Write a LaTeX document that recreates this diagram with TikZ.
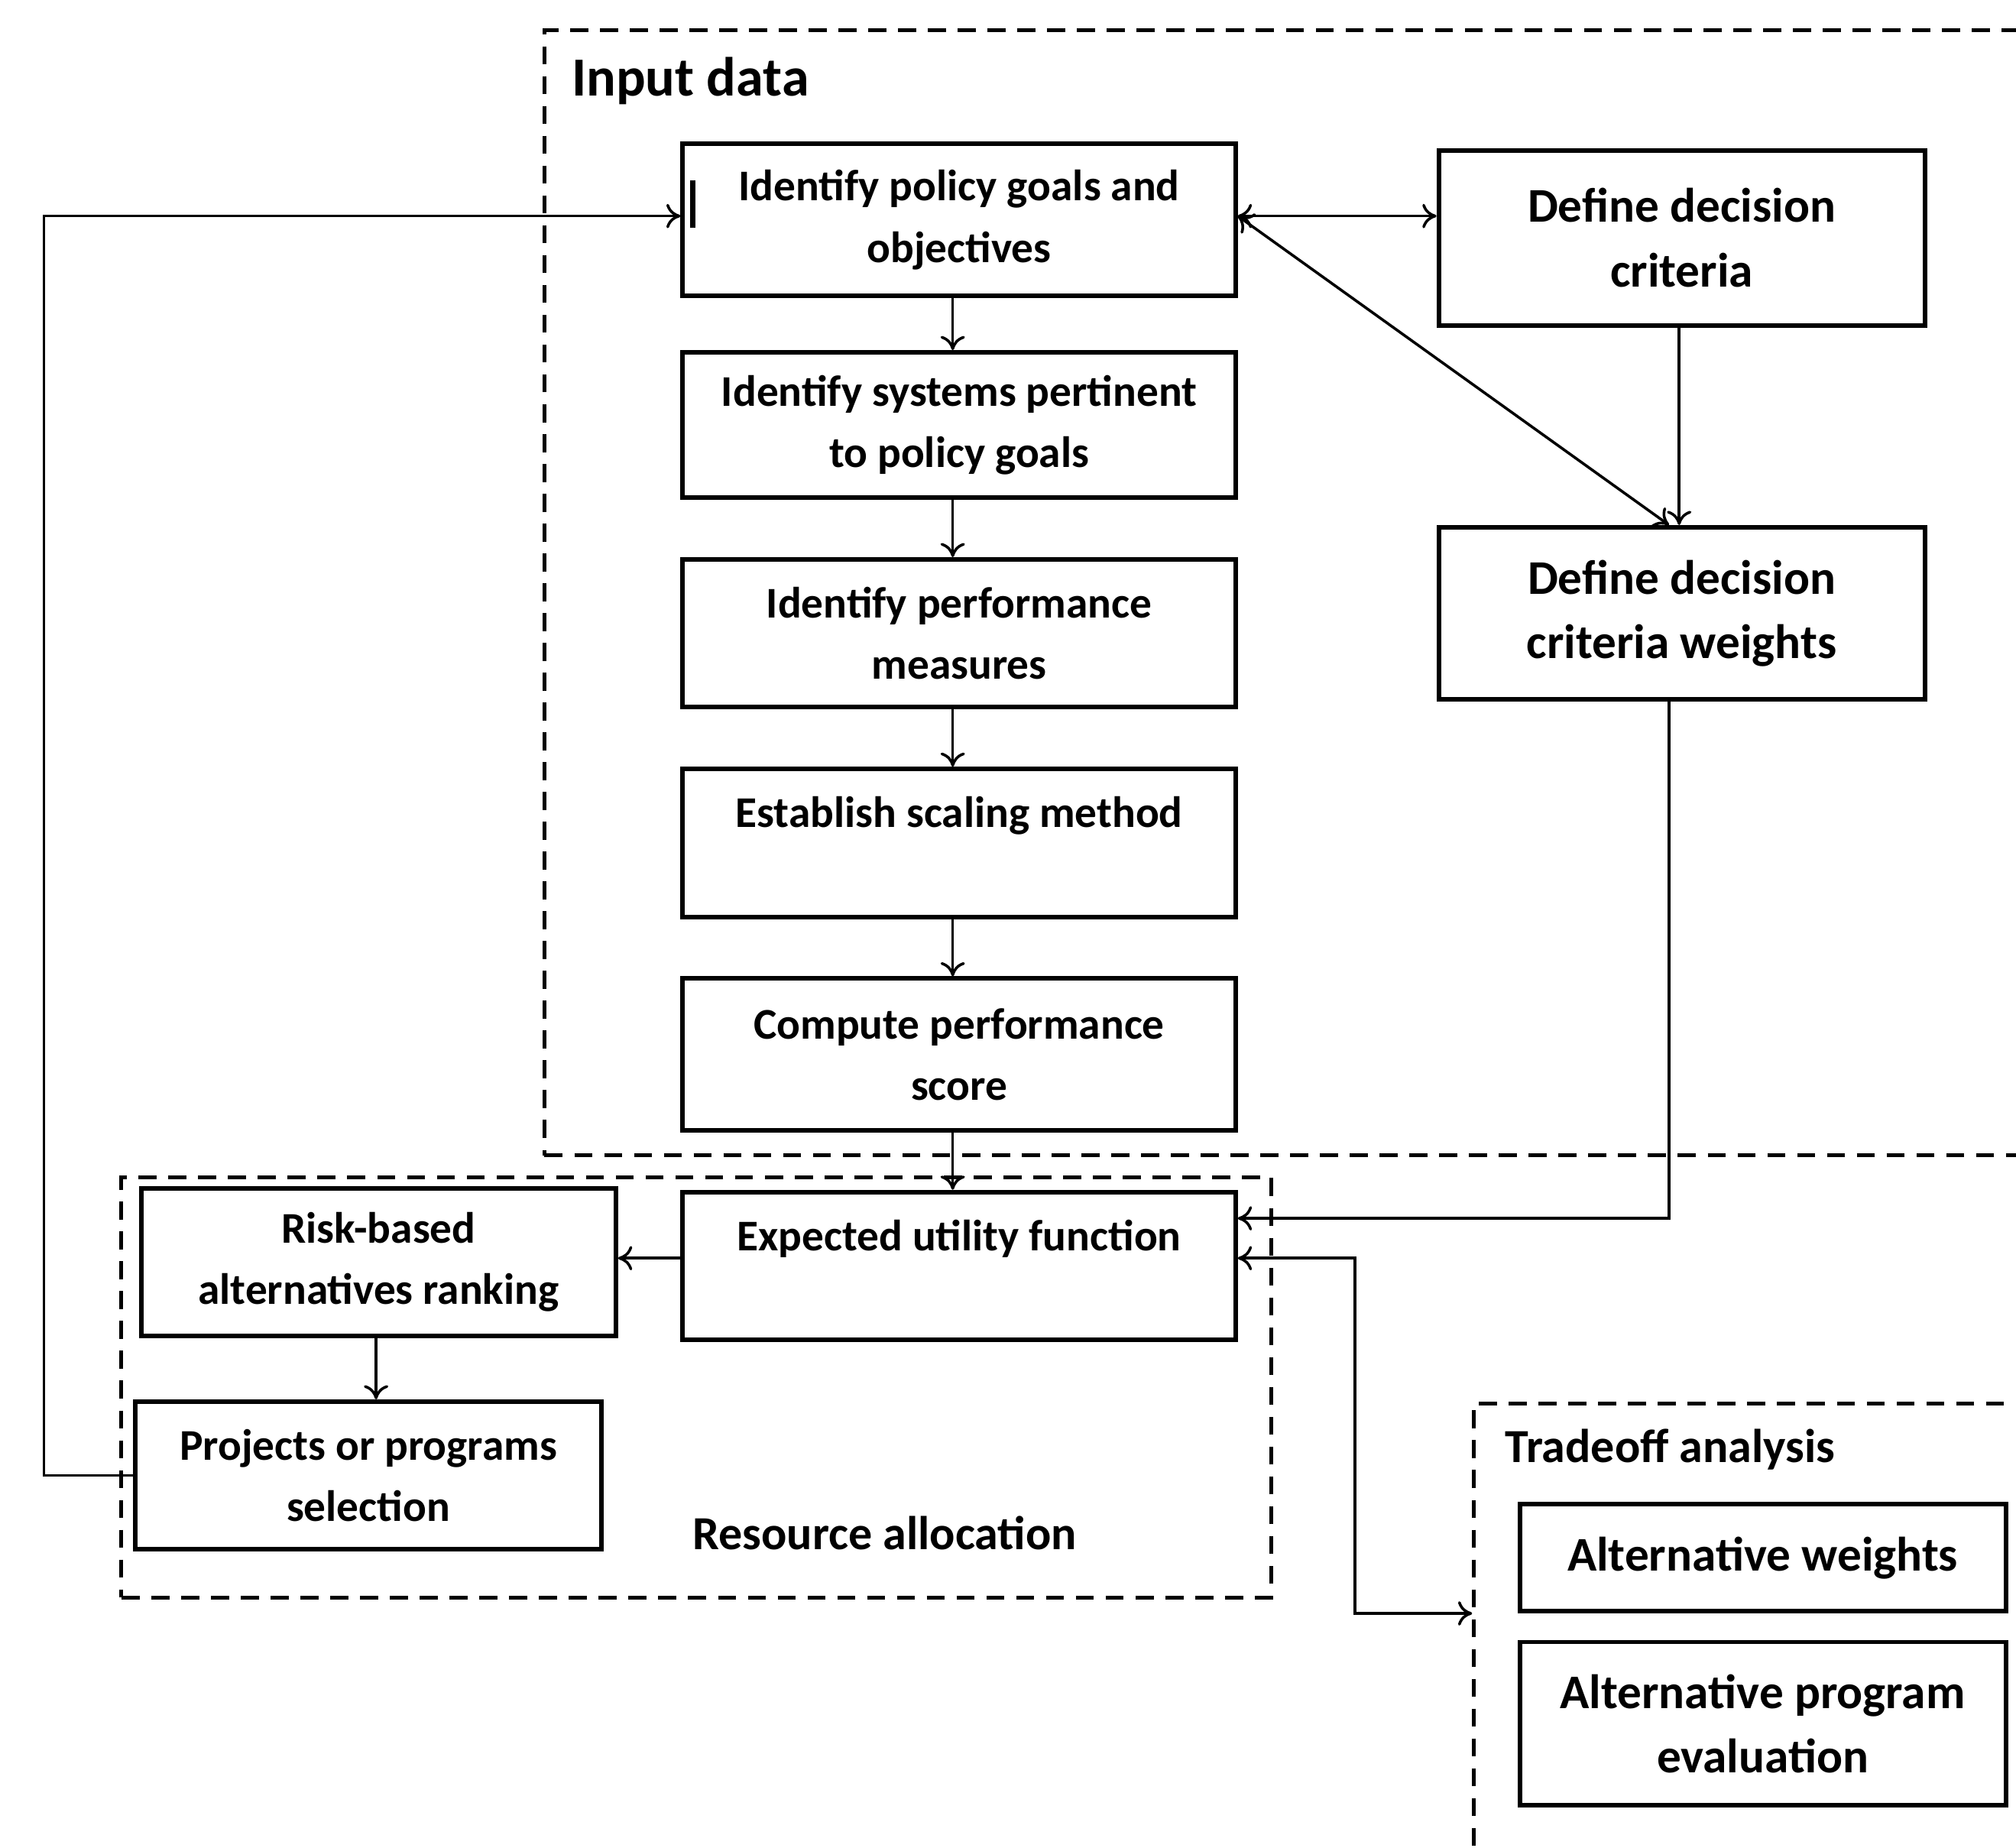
\documentclass[tikz,border=0pt]{standalone}
\usepackage{fontspec}
\setmainfont{Carlito}
\usepackage{tikz}
\usetikzlibrary{arrows.meta,positioning}

\begin{document}
\begin{tikzpicture}[
  >={To[length=1.1mm,width=1.9mm]},
  stepbox/.style={draw,line width=1pt,align=center,inner sep=0pt,minimum width=4.30cm,minimum height=1.15cm,font=\bfseries\fontsize{9.7}{13.6}\selectfont},
  sidebox/.style={stepbox,minimum width=3.78cm,font=\bfseries\fontsize{10.7}{14.3}\selectfont},
  groupbox/.style={draw,dash pattern=on 4pt off 2.6pt,line width=0.85pt,inner sep=0pt,anchor=north west},
  grouplbl/.style={inner sep=0pt,font=\bfseries\fontsize{10.5}{12}\selectfont},
  link/.style={->,line width=0.6pt},
  twolink/.style={<->,line width=0.6pt}
]
\useasboundingbox (0,0) rectangle (15.68,-14.37);
\clip (0,0) rectangle (15.68,-14.37);

\node[groupbox,minimum width=11.8cm,minimum height=8.75cm] (input) at (4.22,-0.22) {};
\node[groupbox,minimum width=8.94cm,minimum height=3.27cm] (resource) at (0.93,-9.14) {};
\node[groupbox,minimum width=4.8cm,minimum height=3.8cm] (trade) at (11.45,-10.90) {};

\node[anchor=west,inner sep=0pt,font=\bfseries\fontsize{12.2}{14}\selectfont] (inputlbl) at (4.44,-0.63) {Input data};
\node[grouplbl] (resourcelbl) at (6.88,-11.92) {Resource allocation};
\node[grouplbl,anchor=west] (tradelbl) at (11.70,-11.27) {Tradeoff analysis};

\node[stepbox,minimum height=1.18cm] (goals) at (7.46,-1.71) {Identify policy goals and\\objectives};
\node[stepbox,minimum height=1.13cm] (systems) at (7.46,-3.305) {Identify systems pertinent\\to policy goals};
\node[stepbox] (measures) at (7.46,-4.925) {Identify performance\\measures};
\node[stepbox] (scaling) at (7.46,-6.555) {Establish scaling method\\\mbox{}};
\node[stepbox,minimum height=1.18cm] (score) at (7.46,-8.20) {Compute performance\\score};
\node[stepbox] (utility) at (7.46,-9.845) {Expected utility function\\\mbox{}};
\node[stepbox,minimum width=3.69cm] (ranking) at (2.945,-9.815) {Risk-based\\alternatives ranking};
\node[stepbox,minimum width=3.63cm] (selection) at (2.865,-11.475) {Projects or programs\\selection};

\node[sidebox,minimum height=1.36cm] (criteria) at (13.08,-1.85) {Define decision\\criteria};
\node[sidebox,minimum height=1.34cm] (weights) at (13.08,-4.77) {Define decision\\criteria weights};
\node[sidebox,minimum height=0.83cm] (altweights) at (13.71,-12.115) {Alternative weights};
\node[sidebox,minimum height=1.27cm] (alteval) at (13.71,-13.405) {Alternative program\\evaluation};

\draw[line width=1.2pt] (5.39,-1.40) -- (5.39,-1.77);

\draw[link] ([xshift=-0.5mm]goals.south) -- ([xshift=-0.5mm]systems.north);
\draw[link] ([xshift=-0.5mm]systems.south) -- ([xshift=-0.5mm]measures.north);
\draw[link] ([xshift=-0.5mm]measures.south) -- ([xshift=-0.5mm]scaling.north);
\draw[link] ([xshift=-0.5mm]scaling.south) -- ([xshift=-0.5mm]score.north);
\draw[link] ([xshift=-0.5mm]score.south) -- ([xshift=-0.5mm]utility.north);
\draw[link] ([yshift=0.6mm]utility.west) -- ([yshift=0.6mm]utility.west -| ranking.east);
\draw[link] ([xshift=-0.2mm]ranking.south) -- ([xshift=-0.2mm]ranking.south |- selection.north);
\draw[link] (selection.west) -- ++(-0.69,0) |- ([yshift=0.3mm]goals.west);
\draw[twolink] ([yshift=0.3mm]goals.east) -- ([yshift=0.3mm]goals.east -| criteria.west);
\draw[twolink] ([yshift=0.3mm]goals.east) -- ([xshift=-1mm]weights.north);
\draw[link] ([xshift=-0.2mm]criteria.south) -- ([xshift=-0.2mm]weights.north);
\draw[link] ([xshift=-1mm]weights.south) |- ([yshift=3.7mm]utility.east);
\draw[twolink] ([yshift=0.6mm]utility.east) -- ++(0.91,0) |- (altweights.south -| trade.west);
\end{tikzpicture}
\end{document}
